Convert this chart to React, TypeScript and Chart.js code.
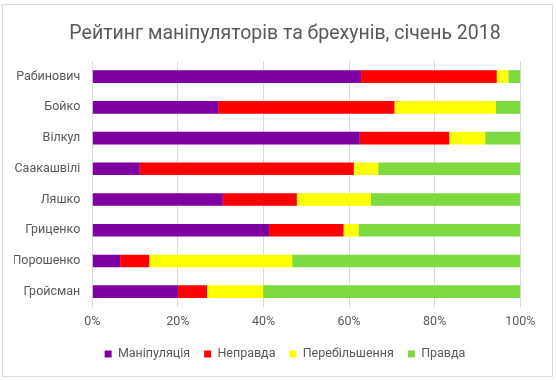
import React, { useEffect, useRef } from "react";
import { Chart, registerables } from "chart.js";

Chart.register(...registerables);

const categories = ["Рабинович", "Бойко", "Вілкул", "Саакашвілі", "Ляшко", "Гриценко", "Порошенко", "Гройсман"];
const manipulation = [62.8, 29.4, 62.5, 11.1, 30.5, 41.3, 6.5, 20.0];
const untruth = [31.7, 41.2, 20.9, 50.0, 17.3, 17.4, 6.8, 6.8];
const exaggeration = [2.7, 23.7, 8.4, 5.7, 17.3, 3.5, 33.4, 13.1];
const truth = [2.8, 5.7, 8.2, 33.2, 34.9, 37.8, 53.3, 60.1];
const seriesNames = ["Маніпуляція", "Неправда", "Перебільшення", "Правда"];
const titleText = "Рейтинг маніпуляторів та брехунів, січень 2018";

const FONT = "Roboto";
const TEXT = "#595959";
const GRID = "#d9d9d9";

const borderPlugin = {
  id: "frameBorder",
  beforeDraw(chart: any) {
    const ctx = chart.ctx;
    ctx.save();
    ctx.fillStyle = "#ffffff";
    ctx.fillRect(0, 0, chart.width, chart.height);
    ctx.strokeStyle = GRID;
    ctx.lineWidth = 1;
    ctx.strokeRect(2.5, 4.5, 550, 372);
    ctx.restore();
  },
};

export default function App() {
  const ref = useRef<HTMLCanvasElement | null>(null);
  useEffect(() => {
    document.body.style.margin = "0";
    if (!ref.current) return;
    const chart = new Chart(ref.current, {
      type: "bar",
      data: {
        labels: categories,
        datasets: [
          { label: seriesNames[0], data: manipulation, backgroundColor: "#7f00a0" },
          { label: seriesNames[1], data: untruth, backgroundColor: "#ff0000" },
          { label: seriesNames[2], data: exaggeration, backgroundColor: "#ffff00" },
          { label: seriesNames[3], data: truth, backgroundColor: "#7cd93f" },
        ],
      },
      options: {
        indexAxis: "y",
        responsive: false,
        animation: false,
        layout: { padding: { left: 14, right: 0, top: 0, bottom: 9.75 } },
        datasets: { bar: { barPercentage: 0.41, categoryPercentage: 1 } },
        scales: {
          x: {
            stacked: true,
            min: 0,
            max: 100,
            ticks: {
              stepSize: 20,
              color: TEXT,
              font: { family: FONT, size: 12.5 },
              padding: 7,
              callback: (v: any) => v + "%",
            },
            grid: { color: GRID, drawTicks: false },
            border: { display: false },
            afterFit: (s: any) => {
              s.height = 26.75;
            },
          },
          y: {
            stacked: true,
            ticks: { color: TEXT, font: { family: FONT, size: 12.5 }, padding: 12 },
            grid: { display: false, drawTicks: false },
            border: { display: false },
            afterFit: (s: any) => {
              s.width = 78.3;
            },
          },
          yRight: {
            type: "category",
            position: "right",
            labels: categories,
            ticks: { display: false },
            grid: { display: false, drawTicks: false },
            border: { display: false },
            afterFit: (s: any) => {
              s.width = 35.7;
            },
          },
        },
        plugins: {
          title: {
            display: true,
            text: titleText,
            color: TEXT,
            font: { family: FONT, size: 19.5, weight: "normal" },
            padding: { top: 22, bottom: 15.9 },
          },
          legend: {
            position: "bottom",
            labels: {
              boxWidth: 7,
              boxHeight: 7,
              padding: 14,
              color: TEXT,
              font: { family: FONT, size: 12.5 },
            },
          },
          tooltip: { enabled: false },
        },
      },
      plugins: [borderPlugin],
    });
    return () => chart.destroy();
  }, []);
  return (
    <div style={{ width: 556, height: 380 }}>
      <canvas ref={ref} width={556} height={380} />
    </div>
  );
}
